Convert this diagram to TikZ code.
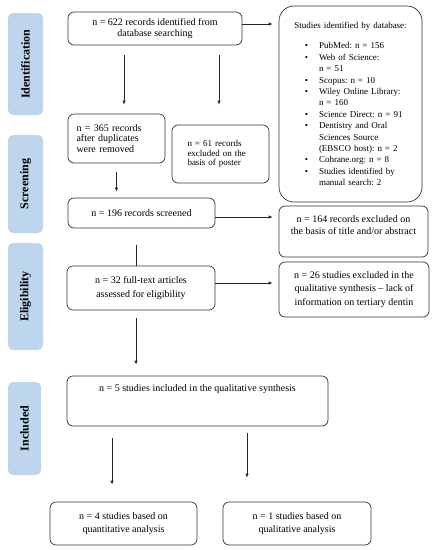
\documentclass[tikz,border=0pt]{standalone}
\usepackage{fontspec}
\setmainfont{Liberation Serif}
\usetikzlibrary{arrows.meta}
\definecolor{tabblue}{RGB}{189,214,238}
\frenchspacing

\tikzset{
  box/.style={draw=black!80, line width=0.7pt, rounded corners=6pt, align=center,
    inner sep=2pt, font=\fontsize{10}{13.5}\selectfont},
  phase/.style={fill=tabblue, rounded corners=5pt, rotate=90, inner sep=0pt,
    font=\fontsize{12}{14}\bfseries\selectfont},
  arr/.style={draw=black!85, line width=0.7pt, -{Latex[length=4pt,width=3.5pt]}},
  link/.style={draw=black!85, line width=0.7pt},
}

\begin{document}
\begin{tikzpicture}[x=1pt,y=-1pt]
\useasboundingbox (0,0) rectangle (434,550);
% phases
\node[phase, minimum width=102pt, minimum height=35pt] (ident) at (25.5,64) {Identification};
\node[phase, minimum width=98pt, minimum height=35pt] (screen) at (25.5,184) {Screening};
\node[phase, minimum width=107pt, minimum height=35pt] (elig) at (25.5,296.5) {Eligibility};
\node[phase, minimum width=93pt, minimum height=33pt] (inclph) at (24.5,428.5) {Included};

% boxes
\node[box, minimum width=174pt, minimum height=33pt, font=\fontsize{10}{11}\selectfont]
  (recid) at (155,28.5) {n = 622 records identified from\\database searching};
\node[box, rounded corners=15pt, minimum width=143pt, minimum height=196pt,
  text width=125pt, align=left, font=\fontsize{9}{11.4}\selectfont]
  (dbase) at (350.5,104) {\centerline{Studies identified by database:}\par\vspace{9pt}
  \begin{list}{\textbullet}{\setlength{\leftmargin}{31pt}\setlength{\labelsep}{11pt}%
    \setlength{\labelwidth}{20pt}\setlength{\itemsep}{0pt}\setlength{\parsep}{0pt}%
    \setlength{\topsep}{0pt}\setlength{\partopsep}{0pt}}
  \item PubMed: n = 156
  \item Web of Science:\newline n = 51
  \item Scopus: n = 10
  \item Wiley Online Library:\newline n = 160
  \item Science Direct: n = 91
  \item Dentistry and Oral\newline Sciences Source\newline (EBSCO host): n = 2
  \item Cohrane.org: n = 8
  \item Studies identified by\newline manual search: 2
  \end{list}};
\node[box, minimum width=97pt, minimum height=49pt, text width=80pt, align=left,
  font=\fontsize{10}{10.5}\selectfont]
  (dedup) at (116.5,138.5) {n = 365 records\\after duplicates\\were removed};
\node[box, minimum width=97pt, minimum height=58pt, text width=66pt, align=left,
  font=\fontsize{9}{9.8}\selectfont]
  (poster) at (220.5,154) {n = 61 records\\excluded on the\\basis of poster};
\node[box, minimum width=147pt, minimum height=30pt]
  (screened) at (141.5,213) {n = 196 records screened};
\node[box, minimum width=149pt, minimum height=51pt, font=\fontsize{10}{12.5}\selectfont]
  (titleex) at (353.5,231.5) {n = 164 records excluded on\\the basis of title and/or abstract\\\mbox{}};
\node[box, minimum width=148pt, minimum height=44pt]
  (fulltext) at (141,288) {n = 32 full-text articles\\assessed for eligibility};
\node[box, minimum width=150pt, minimum height=55pt]
  (qualex) at (354,289.5) {n = 26 studies excluded in the\\qualitative synthesis -- lack of\\information on tertiary dentin};
\node[box, minimum width=261pt, minimum height=50pt]
  (incl) at (197.5,401) {n = 5 studies included in the qualitative synthesis\\[12.5pt]\mbox{}};
\node[box, minimum width=147pt, minimum height=43pt]
  (quant) at (123.5,523.5) {n = 4 studies based on\\quantitative analysis};
\node[box, minimum width=148pt, minimum height=43pt]
  (qual) at (297,523.5) {n = 1 studies based on\\qualitative analysis};

% connectors
\draw[arr, shorten >=6pt] ([yshift=4.5pt]recid.east) -- ([yshift=4.5pt]recid.east -| dbase.west);
\draw[arr, shorten <=10pt, shorten >=9pt] (124,0 |- recid.south) -- (124,0 |- dedup.north);
\draw[arr, shorten <=10pt, shorten >=20pt] (219,0 |- recid.south) -- (219,0 |- poster.north);
\draw[arr, shorten <=9pt, shorten >=6pt] (dedup.south) -- (dedup.south |- screened.north);
\draw[arr, shorten >=6pt] ([yshift=-4pt]screened.east) -- ([yshift=-4pt]screened.east -| titleex.west);
\draw[link, shorten <=17pt] (136,0 |- screened.south) -- (136,0 |- fulltext.north);
\draw[arr, shorten >=6pt] ([yshift=5pt]fulltext.east) -- ([yshift=5pt]fulltext.east -| qualex.west);
\draw[arr, shorten <=8pt, shorten >=11pt] (136,0 |- fulltext.south) -- (136,0 |- incl.north);
\draw[arr, shorten <=12pt, shorten >=17pt] (112,0 |- incl.south) -- (112,0 |- quant.north);
\draw[arr, shorten <=7pt, shorten >=24pt] (247,0 |- incl.south) -- (247,0 |- qual.north);
\end{tikzpicture}
\end{document}
